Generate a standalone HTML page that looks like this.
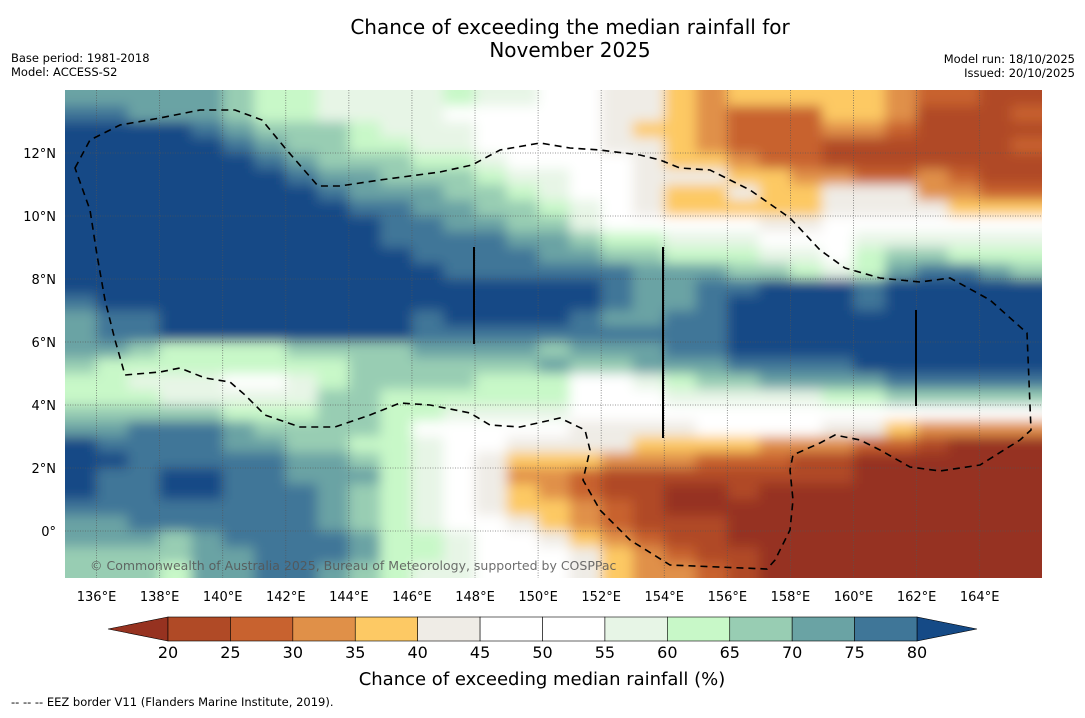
<!DOCTYPE html>
<html><head><meta charset="utf-8"><style>
html,body{margin:0;padding:0;background:#fff;}
body{width:1085px;height:713px;overflow:hidden;font-family:"Liberation Sans",sans-serif;}
svg text{font-family:"DejaVu Sans","Liberation Sans",sans-serif;}
</style></head><body>
<svg id="chart" width="1085" height="713" viewBox="0 0 1085 713" xmlns="http://www.w3.org/2000/svg">
<defs>
<clipPath id="mapclip"><rect x="65" y="90" width="977" height="488"/></clipPath>
<filter id="soft" filterUnits="userSpaceOnUse" x="30" y="55" width="1050" height="560"><feGaussianBlur stdDeviation="6"/></filter>
</defs>
<text x="570" y="34" font-size="20" text-anchor="middle">Chance of exceeding the median rainfall for</text>
<text x="570" y="57" font-size="20" text-anchor="middle">November 2025</text>
<text x="11" y="62" font-size="11.5">Base period: 1981-2018</text>
<text x="11" y="76" font-size="11.5">Model: ACCESS-S2</text>
<text x="1075" y="63" font-size="11.5" text-anchor="end">Model run: 18/10/2025</text>
<text x="1075" y="77" font-size="11.5" text-anchor="end">Issued: 20/10/2025</text>
<g clip-path="url(#mapclip)"><g id="cells" filter="url(#soft)"></g></g>
<g id="grid"></g>
<path id="eez" fill="none" stroke="#000" stroke-width="1.6" stroke-dasharray="7,5"
d="M75,168 L90,140 L120,125 L160,118 L200,110 L235,110 L262,120 L285,148 L318,186 L340,186 L380,180 L440,172 L472,165 L500,150 L540,143 L570,148 L600,150 L640,155 L660,160 L680,168 L710,170 L750,190 L790,218 L820,250 L845,268 L880,278 L920,282 L950,278 L990,300 L1027,333 L1031,430 L1020,440 L980,465 L940,471 L910,467 L880,450 L860,440 L835,435 L820,443 L793,455 L790,470 L793,500 L790,530 L775,560 L767,569 L670,565 L630,540 L600,510 L583,480 L590,450 L585,430 L560,418 L520,427 L490,425 L470,413 L430,405 L400,403 L370,415 L335,427 L300,427 L265,415 L245,395 L230,382 L205,378 L180,368 L160,372 L125,375 L115,340 L105,300 L97,255 L90,210 Z"/>
<line x1="474" y1="247" x2="474" y2="344" stroke="#000" stroke-width="2"/>
<line x1="663" y1="247" x2="663" y2="438" stroke="#000" stroke-width="2"/>
<line x1="916" y1="310" x2="916" y2="406" stroke="#000" stroke-width="2"/>
<text x="90" y="570" font-size="12.5" fill="#555" fill-opacity="0.85">© Commonwealth of Australia 2025, Bureau of Meteorology, supported by COSPPac</text>
<g id="axes"></g>
<g id="colorbar"></g>
<text x="542" y="685" font-size="18" text-anchor="middle">Chance of exceeding median rainfall (%)</text>
<text x="11" y="706" font-size="11.5" font-family="Liberation Sans">--  --  -- EEZ border V11 (Flanders Marine Institute, 2019).</text>
</svg>
<script>
const lonTicks=[136,138,140,142,144,146,148,150,152,154,156,158,160,162,164];
const latTicks=[0,2,4,6,8,10,12];
const levels=[20,25,30,35,40,45,50,55,60,65,70,75,80];
const palette=["#963220","#b04a26","#c8622f","#e09048","#fdc964","#efece6","#ffffff","#ffffff","#e7f5e6","#c8f8c8","#98cdb3","#6aa3a4","#3f7698","#154a86"];
const lonStart=135, latTop=14, dLon=1, dLat=0.5;
const grid=[
[72,72,72,72,72,67,62,62,57,57,57,57,62,57,57,50,50,42,42,37,32,37,37,37,37,37,32,27,27,22,22],
[77,77,72,72,72,67,62,62,57,57,57,57,50,50,50,50,50,42,42,37,32,27,27,27,37,37,32,22,22,22,27],
[85,85,85,85,77,72,67,67,67,62,57,57,57,50,50,50,50,42,37,37,32,27,27,27,32,32,27,22,22,22,22],
[85,85,85,85,85,77,72,67,67,62,62,57,57,50,50,50,50,42,42,37,32,27,27,27,22,22,22,22,22,22,27],
[85,85,85,85,85,85,77,72,67,67,67,62,62,57,50,50,50,50,42,37,37,32,27,27,22,22,22,22,22,22,22],
[85,85,85,85,85,85,85,77,72,72,67,67,67,62,57,57,50,50,42,42,42,37,37,32,32,27,27,32,27,22,22],
[85,85,85,85,85,85,85,85,77,72,72,72,67,67,62,57,50,50,42,37,37,42,37,37,42,42,42,32,32,27,27],
[85,85,85,85,85,85,85,85,85,77,77,72,72,67,67,62,57,50,42,37,37,37,37,37,42,42,42,42,37,37,37],
[85,85,85,85,85,85,85,85,85,85,77,77,72,72,67,67,57,50,50,50,50,50,42,42,50,50,50,50,50,50,50],
[85,85,85,85,85,85,85,85,85,85,77,77,77,77,72,72,67,62,62,57,57,57,50,50,50,57,57,57,57,57,57],
[85,85,85,85,85,85,85,85,85,85,85,77,77,77,77,72,72,67,67,62,62,62,57,57,50,62,67,67,62,62,62],
[85,85,85,85,85,85,85,85,85,85,85,85,77,77,77,77,77,77,72,72,72,67,67,62,57,62,72,77,77,72,67],
[85,85,85,85,85,85,85,85,85,85,85,85,85,85,85,85,85,77,72,72,77,77,85,85,85,77,85,85,85,85,85],
[77,85,85,85,85,85,85,85,85,85,85,85,85,85,85,85,85,77,72,72,77,85,85,85,85,77,85,85,85,85,85],
[72,77,77,85,85,85,85,85,85,85,85,77,85,85,85,85,77,72,72,77,77,85,85,85,85,85,85,85,85,85,85],
[72,77,77,85,85,85,85,85,85,85,85,77,77,77,77,77,77,77,77,77,77,85,85,85,85,85,85,85,85,85,85],
[72,72,67,62,62,62,62,67,67,67,67,72,72,72,72,67,72,72,72,77,77,85,85,85,85,85,85,85,85,85,85],
[67,62,62,62,62,62,62,62,62,67,67,67,67,67,67,72,67,67,72,72,72,77,77,77,77,85,85,85,85,85,85],
[62,62,57,57,57,50,50,57,62,67,67,67,67,62,62,62,50,50,57,62,67,67,72,72,72,72,77,77,77,77,77],
[62,62,62,57,57,57,57,57,67,67,62,62,62,62,62,62,50,50,50,57,57,57,57,57,62,62,67,67,67,67,67],
[67,67,67,67,67,62,62,62,67,67,62,62,57,57,57,57,50,50,50,50,50,50,50,50,50,50,50,50,50,50,50],
[72,72,77,77,77,72,67,67,67,67,62,50,50,50,50,50,42,42,42,42,50,50,50,50,42,42,37,32,32,32,32],
[85,77,77,77,77,72,72,67,67,62,62,57,50,50,42,42,42,42,37,37,37,37,32,32,32,27,27,22,15,15,15],
[85,85,77,77,77,77,77,72,72,67,62,57,50,42,37,37,37,32,32,32,27,27,27,22,22,15,15,15,15,15,15],
[85,77,77,85,85,77,77,72,72,72,62,57,50,42,32,32,27,22,22,22,22,22,22,22,22,15,15,15,15,15,15],
[85,77,77,85,85,77,77,77,72,67,62,57,50,42,37,32,27,22,22,15,15,22,15,15,15,15,15,15,15,15,15],
[77,77,77,77,77,77,77,77,72,67,62,57,50,42,37,37,32,27,22,15,15,15,15,15,15,15,15,15,15,15,15],
[72,72,77,77,77,77,77,77,72,67,62,57,50,50,42,37,32,27,22,22,22,15,15,15,15,15,15,15,15,15,15],
[72,72,72,67,72,77,77,77,77,72,62,62,57,50,50,42,37,32,27,22,22,15,15,15,15,15,15,15,15,15,15],
[67,67,67,67,72,72,77,77,77,72,62,62,57,50,50,50,42,37,32,27,22,22,15,15,15,15,15,15,15,15,15],
[67,67,67,62,72,72,77,77,72,67,62,57,57,50,50,50,42,37,32,32,27,22,15,15,15,15,15,15,15,15,15]
];
const NS="http://www.w3.org/2000/svg";
function xScale(lon){return 65+(lon-135)*31.54;}
function yScale(lat){return 531-lat*31.5;}
function colorFor(v){if(v<levels[0])return palette[0];if(v>=levels[levels.length-1])return palette[13];return palette[1+Math.floor((v-20)/5)];}
function mk(tag,attrs,parent){const e=document.createElementNS(NS,tag);for(const k in attrs)e.setAttribute(k,attrs[k]);parent.appendChild(e);return e;}
const cells=document.getElementById('cells');
const nR=grid.length;
grid.forEach((row,r)=>{const nC=row.length;row.forEach((v,c)=>{
  const lon=lonStart+c*dLon, lat=latTop-r*dLat;
  let x0=xScale(lon), x1=xScale(lon+dLon), y0=yScale(lat), y1=yScale(lat-dLat);
  if(c===0)x0-=30; if(c===nC-1)x1+=30; if(r===0)y0-=30; if(r===nR-1)y1+=30;
  const el=mk('rect',{x:x0,y:y0,width:x1-x0+0.6,height:y1-y0+0.6,fill:colorFor(v)},cells);
  
  
});});
const g=document.getElementById('grid');
lonTicks.forEach(lon=>{const x=xScale(lon);
  const el=mk('line',{x1:x,y1:90,x2:x,y2:578,stroke:'#555','stroke-width':0.8,'stroke-dasharray':'1,1.5','stroke-opacity':0.8},g);
  
  
});
latTicks.forEach(lat=>{const y=yScale(lat);
  const el=mk('line',{x1:65,y1:y,x2:1042,y2:y,stroke:'#555','stroke-width':0.8,'stroke-dasharray':'1,1.5','stroke-opacity':0.8},g);
  
  
});
const ax=document.getElementById('axes');
lonTicks.forEach(lon=>{
  const t=mk('text',{x:xScale(lon),y:601,'font-size':13,'text-anchor':'middle'},ax);t.textContent=lon+'°E';
  
  
});
latTicks.forEach(lat=>{
  const t=mk('text',{x:56,y:yScale(lat)+5,'font-size':13,'text-anchor':'end'},ax);t.textContent=lat===0?'0°':lat+'°N';
  
  
});
const cb=document.getElementById('colorbar');
const cbX0=168,cbX1=917,cbY=617,cbH=24,seg=(cbX1-cbX0)/(levels.length-1);
const lt=mk('polygon',{points:`108,${cbY+cbH/2} ${cbX0},${cbY} ${cbX0},${cbY+cbH}`,fill:palette[0],stroke:'#000','stroke-width':0.6},cb);


const rt=mk('polygon',{points:`977,${cbY+cbH/2} ${cbX1},${cbY} ${cbX1},${cbY+cbH}`,fill:palette[13],stroke:'#000','stroke-width':0.6},cb);


for(let i=0;i<levels.length-1;i++){
  const r=mk('rect',{x:cbX0+i*seg,y:cbY,width:seg,height:cbH,fill:palette[i+1],stroke:'#000','stroke-width':0.6},cb);
  
  
}
levels.forEach((lv,i)=>{
  const t=mk('text',{x:cbX0+i*seg,y:658,'font-size':16,'text-anchor':'middle'},cb);t.textContent=lv;
  
  
});
</script>
</body></html>
